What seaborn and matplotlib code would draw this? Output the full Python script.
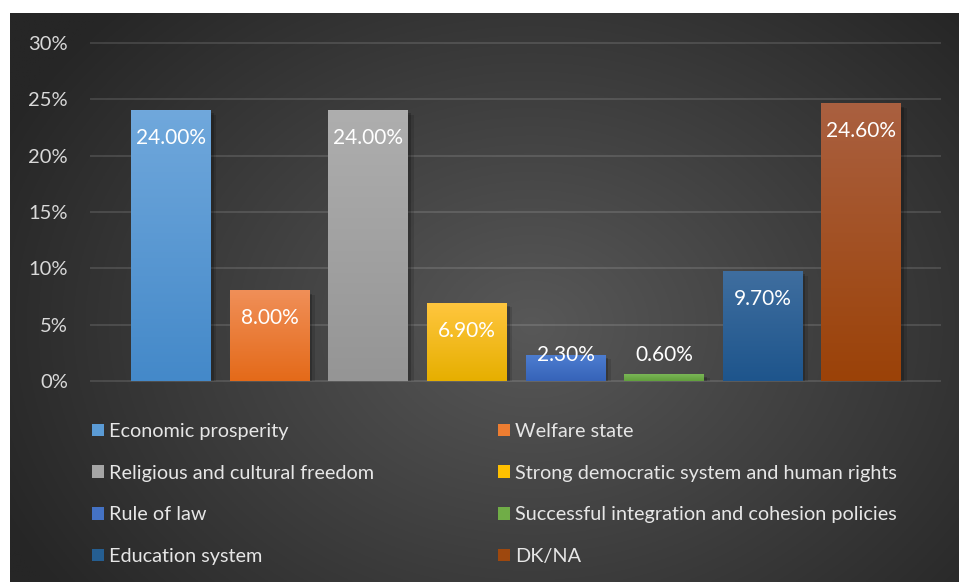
import numpy as np
import pandas as pd
import matplotlib
matplotlib.use("Agg")
import matplotlib.pyplot as plt
import matplotlib.colors as mcolors
from matplotlib.patches import Patch
from matplotlib import patheffects as pe
import seaborn as sns

# ---- data -------------------------------------------------------------
categories = [
    "Economic prosperity",
    "Welfare state",
    "Religious and cultural freedom",
    "Strong democratic system and human rights",
    "Rule of law",
    "Successful integration and cohesion policies",
    "Education system",
    "DK/NA",
]
shares = [24.0, 8.0, 24.0, 6.9, 2.3, 0.6, 9.7, 24.6]

tick_values = [0, 5, 10, 15, 20, 25, 30]
tick_labels = ["0%", "5%", "10%", "15%", "20%", "25%", "30%"]

# ---- styling ----------------------------------------------------------
base_colors = ["#5B9BD5", "#ED7D31", "#A5A5A5", "#FFC000",
               "#4472C4", "#70AD47", "#255E91", "#9E480E"]
top_colors = ["#70A8DC", "#F08F58", "#AEAEAE", "#FFC63E",
              "#4D7DD0", "#7AB656", "#3F6E9F", "#AA6040"]
bottom_colors = ["#4489C9", "#E46A19", "#959595", "#E6AF00",
                 "#3663B8", "#62A03D", "#1E558C", "#9B4208"]

plt.rcParams["font.family"] = ["Lato", "DejaVu Sans"]

W, H = 959, 582
fig = plt.figure(figsize=(W / 100, H / 100), dpi=100)
fig.patch.set_facecolor("white")

# radial background panel
bg = fig.add_axes([10 / W, 0, (W - 10) / W, (H - 13) / H])
yy, xx = np.mgrid[0:1:300j, 0:1:500j]
r = np.sqrt(((xx - 0.55) / 0.62) ** 2 + ((yy - 0.45) / 0.80) ** 2)
r = np.clip(r, 0, 1)
c_in = np.array(mcolors.to_rgb("#585858"))
c_out = np.array(mcolors.to_rgb("#262626"))
img = c_in[None, None, :] * (1 - r[..., None]) + c_out[None, None, :] * r[..., None]
bg.imshow(img, origin="lower", extent=[0, 1, 0, 1], aspect="auto")
bg.set_axis_off()

# main plot
ax = fig.add_axes([91 / W, 1 - 381 / H, 849 / W, 338 / H])
ax.patch.set_alpha(0)

df = pd.DataFrame({"category": categories, "share": shares})
sns.barplot(data=df, x="category", y="share", hue="category",
            palette=dict(zip(categories, base_colors)), saturation=1,
            width=0.81, legend=False, ax=ax, zorder=2)

# gradient fill and soft shadow on each bar
for patch, ct, cb in zip(ax.patches, top_colors, bottom_colors):
    x0, w, h = patch.get_x(), patch.get_width(), patch.get_height()
    t = np.linspace(0, 1, 128)[:, None]
    a, b = np.array(mcolors.to_rgb(ct)), np.array(mcolors.to_rgb(cb))
    grad = a[None, None, :] * (1 - t[..., None]) + b[None, None, :] * t[..., None]
    grad = np.repeat(grad, 2, axis=1)
    ax.imshow(grad, extent=[x0, x0 + w, 0, h], aspect="auto",
              origin="upper", zorder=2.5)
    patch.set_path_effects([
        pe.SimplePatchShadow(offset=(4, -3), shadow_rgbFace="black", alpha=0.12),
        pe.SimplePatchShadow(offset=(2, -2), shadow_rgbFace="black", alpha=0.2),
        pe.Normal(),
    ])

# value labels
for i, v in enumerate(shares):
    y = max(v - 2.45, 2.3)
    ax.text(i, y, f"{v:.2f}%", ha="center", va="center",
            color="white", fontsize=15, zorder=5)

ax.set_xlim(-0.811, 7.797)
ax.set_ylim(0, 30)
ax.set_yticks(tick_values)
ax.set_yticklabels(tick_labels)
ax.tick_params(axis="y", length=0, pad=16.5, labelsize=14.5, labelcolor="#D9D9D9")
ax.set_xticks([])
ax.set_xlabel("")
ax.set_ylabel("")
for s in ax.spines.values():
    s.set_visible(False)
ax.yaxis.grid(True, color="white", alpha=0.12, lw=1.5, clip_on=False)
ax.set_axisbelow(True)

# legend: two columns read row by row
handles = [Patch(facecolor=c, edgecolor="none") for c in base_colors]
legend_kw = dict(frameon=False, fontsize=14.3, labelcolor="#E6E6E6",
                 handlelength=0.6, handleheight=0.6, handletextpad=0.28,
                 labelspacing=1.245, borderpad=0, borderaxespad=0,
                 loc="center left")
leg1 = fig.legend([handles[i] for i in (0, 2, 4, 6)],
                  [categories[i] for i in (0, 2, 4, 6)],
                  bbox_to_anchor=(92 / W, 1 - 494 / H), **legend_kw)
leg2 = fig.legend([handles[i] for i in (1, 3, 5, 7)],
                  [categories[i] for i in (1, 3, 5, 7)],
                  bbox_to_anchor=(498 / W, 1 - 494 / H), **legend_kw)

fig.savefig("out.png", dpi=100)
